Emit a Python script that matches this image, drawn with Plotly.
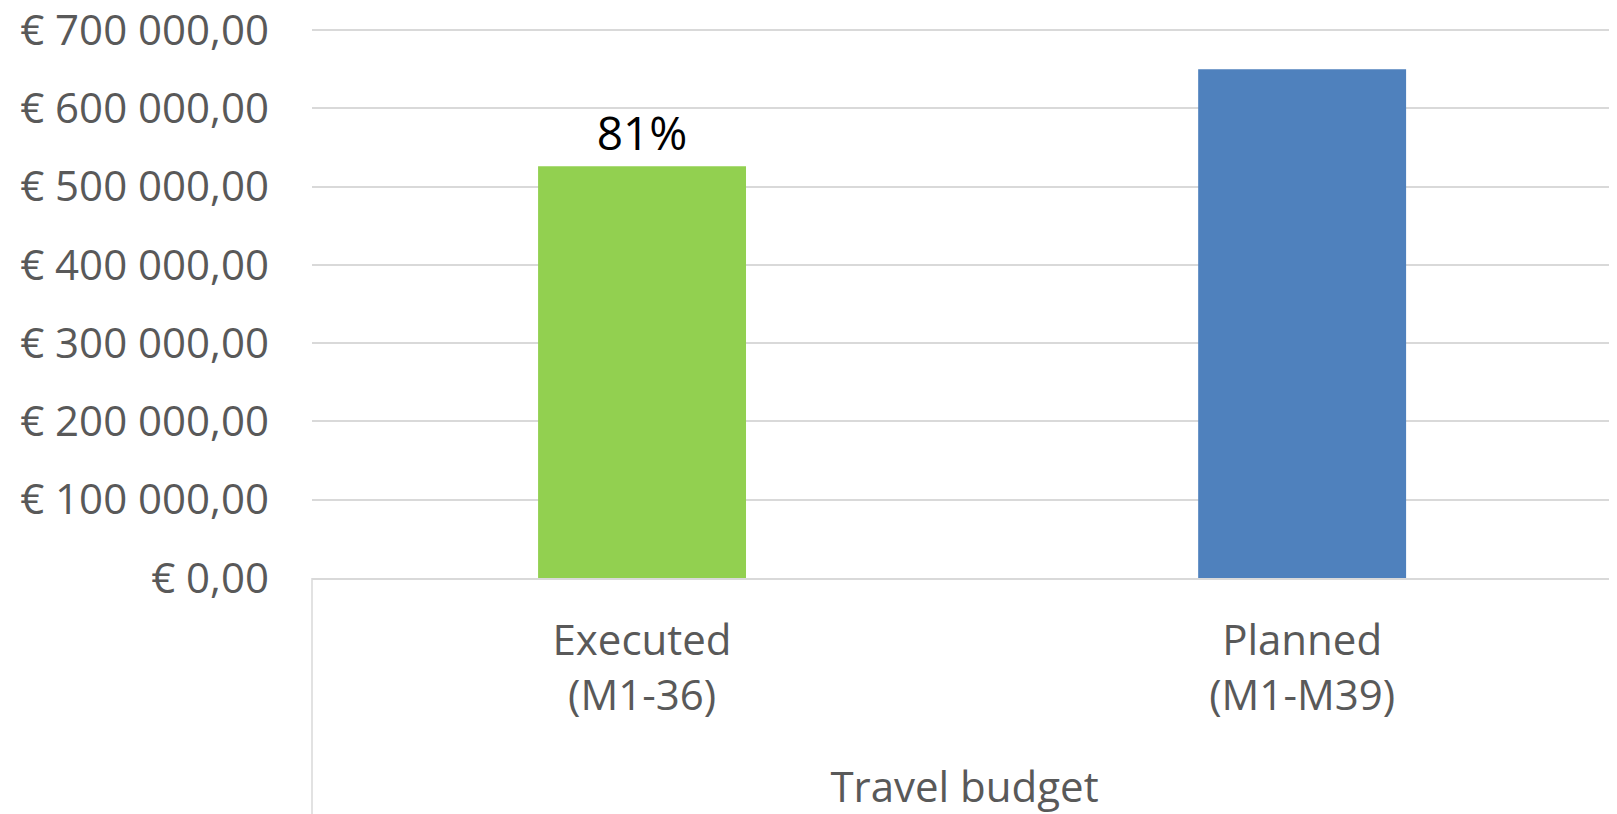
import plotly.graph_objects as go

categories = ["Executed<br>(M1-36)", "Planned<br>(M1-M39)"]
values = [526000, 650000]
bar_colors = ["#92D050", "#4F81BD"]
bar_labels = ["81%", ""]
y_tick_values = [0, 100000, 200000, 300000, 400000, 500000, 600000, 700000]
y_tick_labels = ["€ 0,00", "€ 100 000,00", "€ 200 000,00", "€ 300 000,00",
                 "€ 400 000,00", "€ 500 000,00", "€ 600 000,00", "€ 700 000,00"]
x_title = "Travel budget"

FONT = "Open Sans"
GREY = "#595959"

fig = go.Figure(go.Bar(
    x=categories, y=values, marker=dict(color=bar_colors, line=dict(width=0)),
    width=0.315, text=bar_labels, textposition="outside", cliponaxis=False,
    textfont=dict(family=FONT, size=46, color="#000000"),
))

fig.update_layout(
    width=1609, height=806,
    margin=dict(l=304, r=0, t=20, b=236, autoexpand=False),
    plot_bgcolor="white", paper_bgcolor="white",
    showlegend=False,
    font=dict(family=FONT, color=GREY, size=42),
)
fig.update_yaxes(
    range=[0, 702550], tickvals=y_tick_values, ticktext=y_tick_labels,
    showgrid=True, gridcolor="#d9d9d9", gridwidth=1.5, zeroline=False,
    showline=False, ticklabelstandoff=42, ticklabeloverflow="allow",
    tickfont=dict(family=FONT, size=42, color=GREY),
)
fig.update_xaxes(
    range=[-0.5, 1.477], showline=True, linecolor="#d9d9d9", linewidth=1.5,
    ticklabelstandoff=25, ticklabeloverflow="allow",
    tickfont=dict(family=FONT, size=42, color=GREY),
    title=dict(text=x_title, standoff=52, font=dict(family=FONT, size=42, color=GREY)),
)
fig.add_shape(type="line", xref="paper", yref="paper", x0=0, x1=0, y0=0, y1=-0.45,
              line=dict(color="#d9d9d9", width=1.5))

fig.write_html("out.html")
